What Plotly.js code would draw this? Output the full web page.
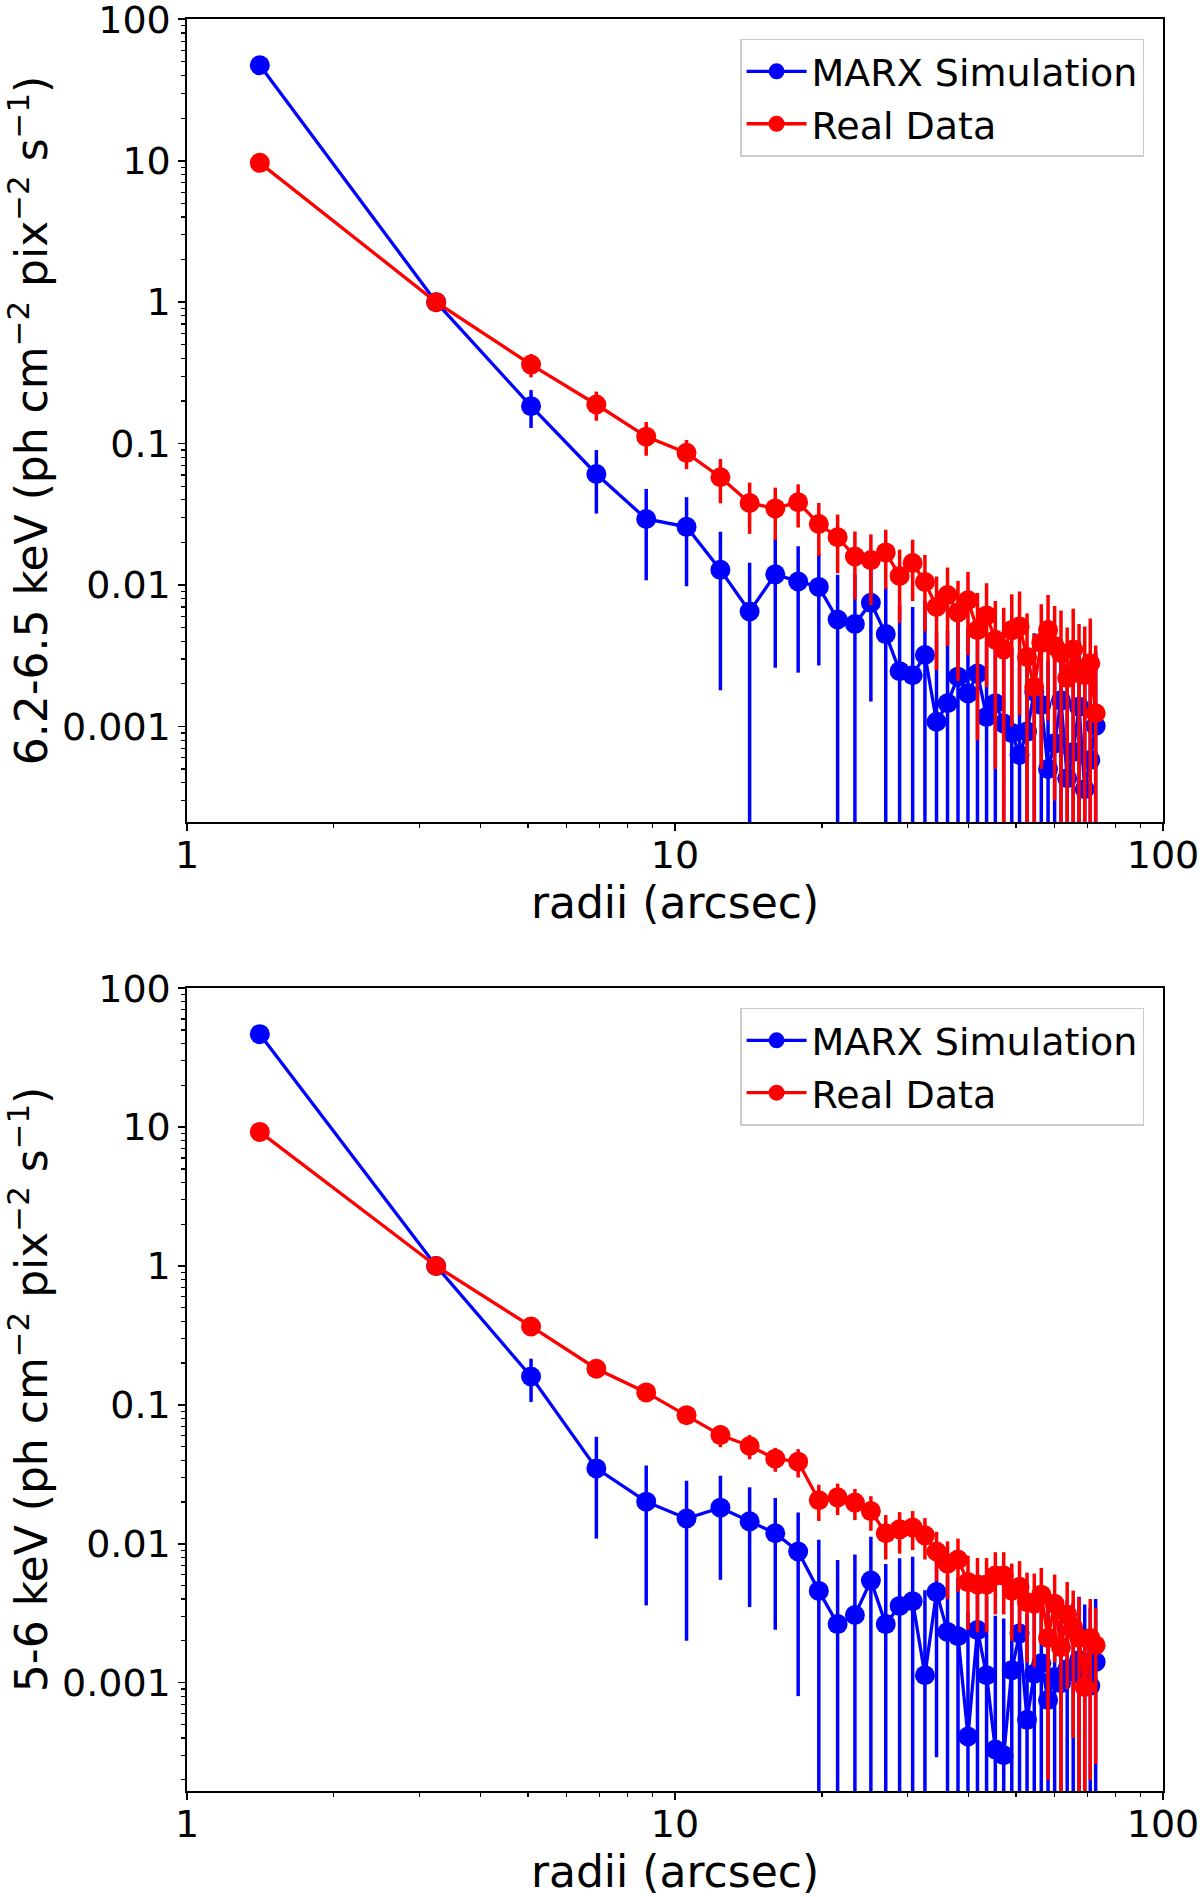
<!DOCTYPE html>
<html>
<head>
<meta charset="utf-8">
<script src="https://cdn.plot.ly/plotly-3.0.1.min.js"></script>
<style>
  html, body { margin: 0; padding: 0; background: #fff; }
  #psf { width: 1200px; height: 1897px; }
</style>
</head>
<body>
<div id="psf"></div>
<script>
// radii of the annuli (arcsec)
var radii = [1.41, 3.24, 5.07, 6.90, 8.73, 10.56, 12.39, 14.22, 16.05, 17.88,
             19.71, 21.54, 23.37, 25.20, 27.03, 28.86, 30.69, 32.52, 34.35, 36.18,
             38.01, 39.84, 41.67, 43.50, 45.33, 47.16, 48.99, 50.82, 52.65, 54.48,
             56.31, 58.14, 59.97, 61.80, 63.63, 65.46, 67.29, 69.12, 70.95, 72.78];

// 6.2-6.5 keV panel
var marxHigh = [47.3, 1.0, 0.184, 0.061, 0.0293, 0.0258, 0.0128, 0.0065, 0.0119, 0.0106,
                0.0097, 0.0057, 0.0053, 0.0075, 0.0045, 0.00246, 0.0023, 0.0032, 0.00108, 0.00146,
                0.00225, 0.00171, 0.00237, 0.00117, 0.00146, 0.00105, 0.0009, 0.00063, 0.00092, 0.00176,
                0.00142, 0.0005, 0.00076, 0.00153, 0.00043, 0.00066, 0.00138, 0.00036, 0.00058, 0.00101];
var marxHighErr = [1.5, 0.03, 0.055, 0.029, 0.0185, 0.016, 0.011, 0.0079, 0.0093, 0.0082,
                   0.007, 0.0061, 0.0065, 0.006, 0.0052, 0.0048, 0.0047, 0.0045, 0.0035, 0.0033,
                   0.0034, 0.0032, 0.0033, 0.0028, 0.003, 0.0027, 0.0026, 0.0025, 0.0026, 0.0028,
                   0.0027, 0.0024, 0.0025, 0.0026, 0.0023, 0.0024, 0.0026, 0.0022, 0.0023, 0.0024];
var realHigh = [9.66, 1.0, 0.362, 0.189, 0.112, 0.086, 0.0578, 0.0380, 0.0348, 0.0385,
                0.0270, 0.0218, 0.0159, 0.0150, 0.0170, 0.0116, 0.0143, 0.0105, 0.0070, 0.0085,
                0.0064, 0.0078, 0.0048, 0.0061, 0.0041, 0.0035, 0.0048, 0.0051, 0.0031, 0.0019,
                0.0039, 0.0048, 0.0037, 0.0033, 0.0022, 0.0035, 0.0024, 0.0023, 0.0028, 0.00124];
var realHighErr = [0.4, 0.04, 0.068, 0.044, 0.03, 0.02, 0.02, 0.015, 0.014, 0.013,
                   0.011, 0.0097, 0.008, 0.0078, 0.0076, 0.0062, 0.0066, 0.0058, 0.0045, 0.0048,
                   0.0043, 0.0046, 0.004, 0.0042, 0.0036, 0.0034, 0.0038, 0.0039, 0.0032, 0.0026,
                   0.0034, 0.0037, 0.0034, 0.0033, 0.0028, 0.0033, 0.0029, 0.0028, 0.003, 0.0025];

// 5-6 keV panel
var marxMid = [46.7, 1.0, 0.16, 0.0349, 0.0201, 0.0152, 0.0182, 0.0145, 0.0119, 0.0088,
               0.00458, 0.00264, 0.00307, 0.00543, 0.00264, 0.00357, 0.00386, 0.00113, 0.00449, 0.00232,
               0.00216, 0.00041, 0.00239, 0.00113, 0.00033, 0.0003, 0.00123, 0.00226, 0.00054, 0.00116,
               0.00138, 0.00075, 0.0011, 0.00099, 0.00125, 0.0012, 0.00145, 0.00105, 0.00095, 0.00141];
var marxMidErr = [1.5, 0.03, 0.055, 0.024, 0.0165, 0.0132, 0.0127, 0.011, 0.0095, 0.008,
                  0.0061, 0.005, 0.0053, 0.0058, 0.0045, 0.0043, 0.0042, 0.0035, 0.0042, 0.0036,
                  0.0035, 0.0028, 0.0034, 0.003, 0.0027, 0.0026, 0.0029, 0.0032, 0.0026, 0.0028,
                  0.0028, 0.0026, 0.0027, 0.0027, 0.0027, 0.0026, 0.0027, 0.0026, 0.0025, 0.0026];
var realMid = [9.23, 1.0, 0.367, 0.182, 0.123, 0.0843, 0.0606, 0.0506, 0.041, 0.039,
               0.0206, 0.0216, 0.0198, 0.0172, 0.0119, 0.0127, 0.0131, 0.0115, 0.0088, 0.0072,
               0.0077, 0.0053, 0.0051, 0.0051, 0.0059, 0.0059, 0.0046, 0.0049, 0.0038, 0.0037,
               0.0043, 0.0021, 0.0037, 0.0018, 0.0031, 0.0025, 0.0021, 0.00093, 0.0021, 0.00186];
var realMidErr = [0.3, 0.03, 0.03, 0.015, 0.015, 0.012, 0.011, 0.01, 0.008, 0.009,
                  0.006, 0.0055, 0.005, 0.0048, 0.0042, 0.0042, 0.0041, 0.0038, 0.0034, 0.0032,
                  0.0032, 0.0029, 0.0028, 0.0028, 0.0028, 0.0028, 0.0026, 0.0026, 0.0024, 0.0024,
                  0.0024, 0.0019, 0.0023, 0.0019, 0.0022, 0.0021, 0.002, 0.0012, 0.0019, 0.0016];

var xTickVals = [1, 10, 100];
var xTickText = ['1', '10', '100'];
var yTickVals = [0.001, 0.01, 0.1, 1, 10, 100];
var yTickText = ['0.001', '0.01', '0.1', '1', '10', '100'];

var seriesNames = ['MARX Simulation', 'Real Data'];
var blue = '#0000ff', red = '#ff0000';
var font = 'DejaVu Sans, Liberation Sans, sans-serif';

// minor ticks on the log axes (2..9 in each decade)
var minorTicks = [];
for (var d = -4; d < 2; d++) {
	for (var k = 2; k < 10; k++) {
		minorTicks.push(k * Math.pow(10, d));
	}
}

function makeTrace(y, err, color, name, xa, ya, legend)
{
	return {
		x: radii,
		y: y,
		error_y: {type: 'data', array: err, visible: true, color: color, thickness: 3.5, width: 0},
		mode: 'lines+markers',
		name: name,
		line: {color: color, width: 3.3},
		marker: {color: color, size: 20},
		xaxis: xa,
		yaxis: ya,
		legend: legend,
		type: 'scatter'
	};
}

var data = [
	makeTrace(marxHigh, marxHighErr, blue, seriesNames[0], 'x', 'y', 'legend'),
	makeTrace(realHigh, realHighErr, red, seriesNames[1], 'x', 'y', 'legend'),
	makeTrace(marxMid, marxMidErr, blue, seriesNames[0], 'x2', 'y2', 'legend2'),
	makeTrace(realMid, realMidErr, red, seriesNames[1], 'x2', 'y2', 'legend2')
];

function xAxis(anchor)
{
	return {
		type: 'log', range: [0, 2], anchor: anchor,
		tickmode: 'array', tickvals: xTickVals, ticktext: xTickText,
		ticks: 'outside', ticklen: 7, tickwidth: 1.6, tickcolor: '#000',
		ticklabelstandoff: -8, ticklabeloverflow: 'allow',
		minor: {tickmode: 'array', tickvals: minorTicks, ticks: 'outside', ticklen: 4, tickwidth: 1.2, tickcolor: '#000', showgrid: false},
		showline: true, linecolor: '#000', linewidth: 1.6, mirror: true,
		showgrid: false, zeroline: false,
		tickfont: {family: font, size: 38, color: '#000'},
		title: {text: 'radii (arcsec)', font: {family: font, size: 44, color: '#000'}, standoff: 6}
	};
}

function yAxis(anchor, domain, lo, band)
{
	return {
		type: 'log', range: [lo, 2.002], anchor: anchor, domain: domain,
		tickmode: 'array', tickvals: yTickVals, ticktext: yTickText,
		ticks: 'outside', ticklen: 7, tickwidth: 1.6, tickcolor: '#000',
		ticklabeloverflow: 'allow',
		minor: {tickmode: 'array', tickvals: minorTicks, ticks: 'outside', ticklen: 4, tickwidth: 1.2, tickcolor: '#000', showgrid: false},
		showline: true, linecolor: '#000', linewidth: 1.6, mirror: true,
		showgrid: false, zeroline: false,
		tickfont: {family: font, size: 38, color: '#000'},
		title: {text: band + ' keV (ph cm<sup>\u22122</sup> pix<sup>\u22122</sup> s<sup>\u22121</sup>)',
		        font: {family: font, size: 44, color: '#000'}, standoff: 4}
	};
}

function legendBox(y)
{
	return {
		x: 0.9806, xanchor: 'right', y: y, yanchor: 'top',
		bgcolor: 'rgba(255,255,255,0.8)', bordercolor: '#cccccc', borderwidth: 1.5,
		font: {family: font, size: 38, color: '#000'},
		itemwidth: 60
	};
}

var layout = {
	width: 1200, height: 1897,
	margin: {l: 186.7, r: 37, t: 19.3, b: 106},
	paper_bgcolor: '#fff', plot_bgcolor: '#fff',
	font: {family: font, color: '#000'},
	showlegend: true,
	xaxis: xAxis('y'),
	yaxis: yAxis('x', [0.5468, 1], -3.676, '6.2-6.5'),
	xaxis2: xAxis('y2'),
	yaxis2: yAxis('x2', [0, 0.4532], -3.78, '5-6'),
	legend: legendBox(0.9889),
	legend2: legendBox(0.4421)
};

Plotly.newPlot('psf', data, layout, {displayModeBar: false, staticPlot: true});
</script>
</body>
</html>
